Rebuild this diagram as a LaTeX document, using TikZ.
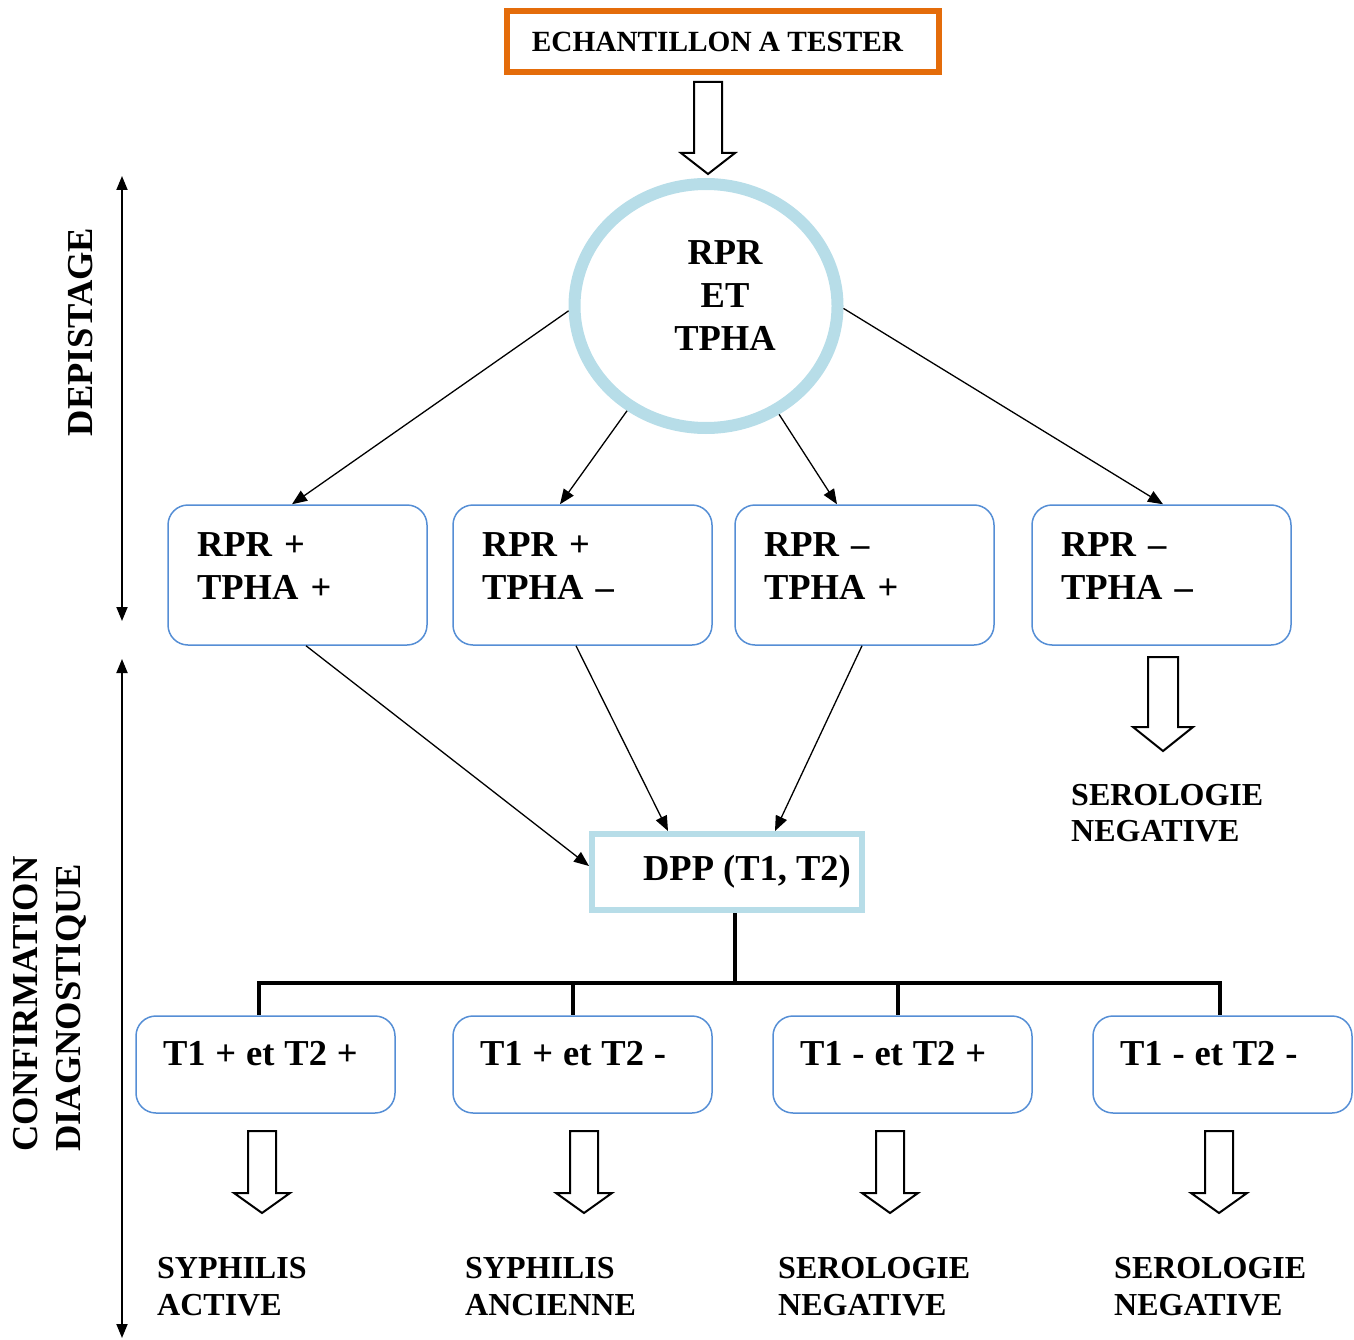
\documentclass[tikz,border=0pt]{standalone}
\usepackage{fontspec}
\setmainfont{Liberation Serif}
\usetikzlibrary{arrows.meta,shapes.geometric,calc}
\definecolor{boxblue}{HTML}{558ED5}
\definecolor{lightblue}{HTML}{B7DDE8}
\definecolor{orangeb}{HTML}{E46C0A}
\newcommand\hollowdown[6]{%
  \draw[hollow] (#1-#5,#2) -- (#1+#5,#2) -- (#1+#5,#3) -- (#1+#6,#3) -- (#1,#4) -- (#1-#6,#3) -- (#1-#5,#3) -- cycle;}
\newcommand\tightspaces{\spaceskip=9.9pt\relax}
\begin{document}
\begin{tikzpicture}[x=1pt,y=-1pt,
  maintext/.style={font=\fontsize{36.5}{43}\selectfont\bfseries},
  restext/.style={font=\fontsize{32}{36.5}\selectfont\bfseries, align=left, inner sep=0pt, anchor=west},
  rboxA/.style={draw=boxblue, line width=1.5pt, rounded corners=20pt, text width=201pt, inner xsep=29pt,
    minimum height=140pt, text depth=60pt, align=left, maintext},
  rboxB/.style={draw=boxblue, line width=1.5pt, rounded corners=20pt, text width=205pt, inner xsep=27pt,
    minimum height=97pt, text depth=23pt, align=left, maintext},
  conn/.style={line width=1.3pt, -{Triangle[length=15pt,width=12pt]}},
  hollow/.style={draw=black, line width=2pt, fill=white, line join=miter},
  dbl/.style={line width=1.8pt, {Triangle[length=14pt,width=11pt]}-{Triangle[length=14pt,width=11pt]}},
  bus/.style={line width=3.5pt}
]
\useasboundingbox (0,0) rectangle (1354,1340);

% top box
\node[draw=orangeb, line width=6pt, minimum width=432pt, minimum height=61pt, inner sep=0pt,
  font=\fontsize{29.3}{35}\selectfont\bfseries] (top) at (723,41.5) {ECHANTILLON A TESTER\hspace*{11pt}};

% circle
\node[ellipse, draw=lightblue, line width=12pt, minimum width=263pt, minimum height=244pt, inner sep=0pt,
  align=center, text depth=21pt, maintext] (c) at (706,306)
  {\hspace*{38pt}RPR\\\hspace*{38pt}ET\\\hspace*{38pt}TPHA};

% first row boxes
\node[rboxA] (b1) at (297.5,575) {RPR +\\TPHA +};
\node[rboxA] (b2) at (582.5,575) {RPR +\\TPHA --};
\node[rboxA] (b3) at (864.5,575) {RPR --\\TPHA +};
\node[rboxA] (b4) at (1161.5,575) {RPR --\\TPHA --};

% DPP box
\node[draw=lightblue, line width=6pt, minimum width=270pt, minimum height=76pt, inner sep=0pt, maintext]
  (dpp) at (727,872) {\hspace*{40pt}DPP (T1, T2)};

% second row boxes
\node[rboxB] (t1) at (265.5,1064.5) {\tightspaces T1 + et T2 +};
\node[rboxB] (t2) at (582.5,1064.5) {\tightspaces T1 + et T2 -};
\node[rboxB] (t3) at (902.5,1064.5) {\tightspaces T1 - et T2 +};
\node[rboxB] (t4) at (1222.5,1064.5) {\tightspaces T1 - et T2 -};

% result texts
\node[restext] (r0) at (1071,813) {SEROLOGIE\\NEGATIVE};
\node[restext] (r1) at (157,1286.5) {SYPHILIS\\ACTIVE};
\node[restext] (r2) at (465,1286.5) {SYPHILIS\\ANCIENNE};
\node[restext] (r3) at (778,1286.5) {SEROLOGIE\\NEGATIVE};
\node[restext] (r4) at (1114,1286.5) {SEROLOGIE\\NEGATIVE};

% side labels
\node[rotate=90, inner sep=0pt, maintext] (dep) at (80.5,332) {DEPISTAGE};
\node[rotate=90, inner sep=0pt, anchor=west, align=left, maintext] (conf) at (50,1152)
  {CONFIRMATION\\DIAGNOSTIQUE};
\coordinate (d1) at (122,176);
\coordinate (d2) at (122,621);
\coordinate (d3) at (122,659);
\coordinate (d4) at (122,1338);
\draw[dbl] (d1) -- (d2);
\draw[dbl] (d3) -- (d4);

% hollow arrows
\hollowdown{708}{82}{153}{174}{14}{27}
\hollowdown{1163}{657}{727}{751}{15}{30}
\hollowdown{262}{1131}{1193}{1213}{14}{28}
\hollowdown{584}{1131}{1193}{1213}{14}{28}
\hollowdown{890}{1131}{1193}{1213}{14}{28}
\hollowdown{1219}{1131}{1193}{1213}{14}{28}

% connectors from circle
\draw[conn] (c.182) -- ([xshift=-5.5pt]b1.north);
\draw[conn] (c.233) -- ([xshift=-22.5pt]b2.north);
\draw[conn] (c.304) -- ([xshift=-27.5pt]b3.north);
\draw[conn] (c.359) -- ([xshift=1.5pt]b4.north);

% connectors to DPP
\draw[conn] ([xshift=8.5pt]b1.south) -- ([yshift=6pt]dpp.west);
\draw[conn] ([xshift=-6.5pt]b2.south) -- ([xshift=-59pt]dpp.north);
\draw[conn] ([xshift=-2.5pt]b3.south) -- ([xshift=48pt]dpp.north);

% bus
\coordinate (j) at (735,983);
\coordinate (busL) at (259,983);
\coordinate (bus2) at (573,983);
\coordinate (bus3) at (898,983);
\coordinate (busR) at (1220,983);
\draw[bus] (dpp.south -| j) -- (j);
\draw[bus] ([xshift=-1.75pt]busL) -- ([xshift=1.75pt]busR);
\draw[bus] (busL) -- (busL |- t1.north);
\draw[bus] (bus2) -- (bus2 |- t2.north);
\draw[bus] (bus3) -- (bus3 |- t3.north);
\draw[bus] (busR) -- (busR |- t4.north);
\end{tikzpicture}
\end{document}
